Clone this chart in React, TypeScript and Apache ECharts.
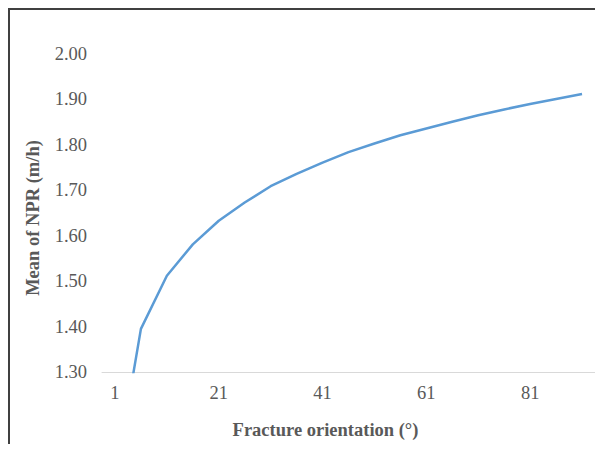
import React, { useEffect, useRef } from "react";
import * as echarts from "echarts";

// Fracture orientation (degrees), sampled every 5°
const orientations: string[] = [
  "1", "6", "11", "16", "21", "26", "31", "36", "41", "46",
  "51", "56", "61", "66", "71", "76", "81", "86", "91",
];

// Mean net penetration rate (m/h) for each orientation
const meanNPR: number[] = [
  1.06, 1.395, 1.512, 1.581, 1.633, 1.673, 1.709, 1.736, 1.761, 1.784,
  1.803, 1.821, 1.836, 1.851, 1.865, 1.878, 1.89, 1.901, 1.912,
];

const yMin = 1.3;
const yMax = 2.0;
const yStep = 0.1;

const textColor = "#595959";
const serif = "'Liberation Serif', 'Times New Roman', serif";

export default function App() {
  const ref = useRef<HTMLDivElement>(null);

  useEffect(() => {
    if (!ref.current) return;
    const chart = echarts.init(ref.current, null, { renderer: "svg" });
    chart.setOption({
      animation: false,
      backgroundColor: "#ffffff",
      grid: { left: 92, right: 0, top: 44, bottom: 70 },
      xAxis: {
        type: "category",
        data: orientations,
        boundaryGap: true,
        name: "Fracture orientation (°)",
        nameLocation: "middle",
        nameGap: 48,
        nameTextStyle: {
          color: textColor,
          fontFamily: serif,
          fontSize: 18.5,
          fontWeight: "bold",
          padding: [0, 46, 0, 0],
        },
        axisLine: { show: true, lineStyle: { color: "#d9d9d9", width: 1 } },
        axisTick: { show: false },
        axisLabel: {
          interval: 3,
          margin: 11,
          color: textColor,
          fontFamily: serif,
          fontSize: 18.5,
        },
        splitLine: { show: false },
      },
      yAxis: {
        type: "value",
        min: yMin,
        max: yMax,
        interval: yStep,
        name: "Mean of NPR (m/h)",
        nameLocation: "middle",
        nameGap: 60,
        nameTextStyle: {
          color: textColor,
          fontFamily: serif,
          fontSize: 18.5,
          fontWeight: "bold",
          padding: [0, 10, 0, 0],
        },
        axisLine: { show: false },
        axisTick: { show: false },
        axisLabel: {
          margin: 15,
          color: textColor,
          fontFamily: serif,
          fontSize: 18.5,
          formatter: (v: number) => v.toFixed(2),
        },
        splitLine: { show: false },
      },
      series: [
        {
          type: "line",
          data: meanNPR,
          clip: true,
          symbol: "none",
          lineStyle: { color: "#5b9bd5", width: 2.5 },
        },
      ],
    });
    return () => chart.dispose();
  }, []);

  return (
    <div
      style={{
        width: 587,
        height: 436,
        boxSizing: "border-box",
        borderLeft: "2px solid #404040",
        borderTop: "2px solid #404040",
        background: "#ffffff",
      }}
    >
      <div ref={ref} style={{ width: 585, height: 434 }} />
    </div>
  );
}
